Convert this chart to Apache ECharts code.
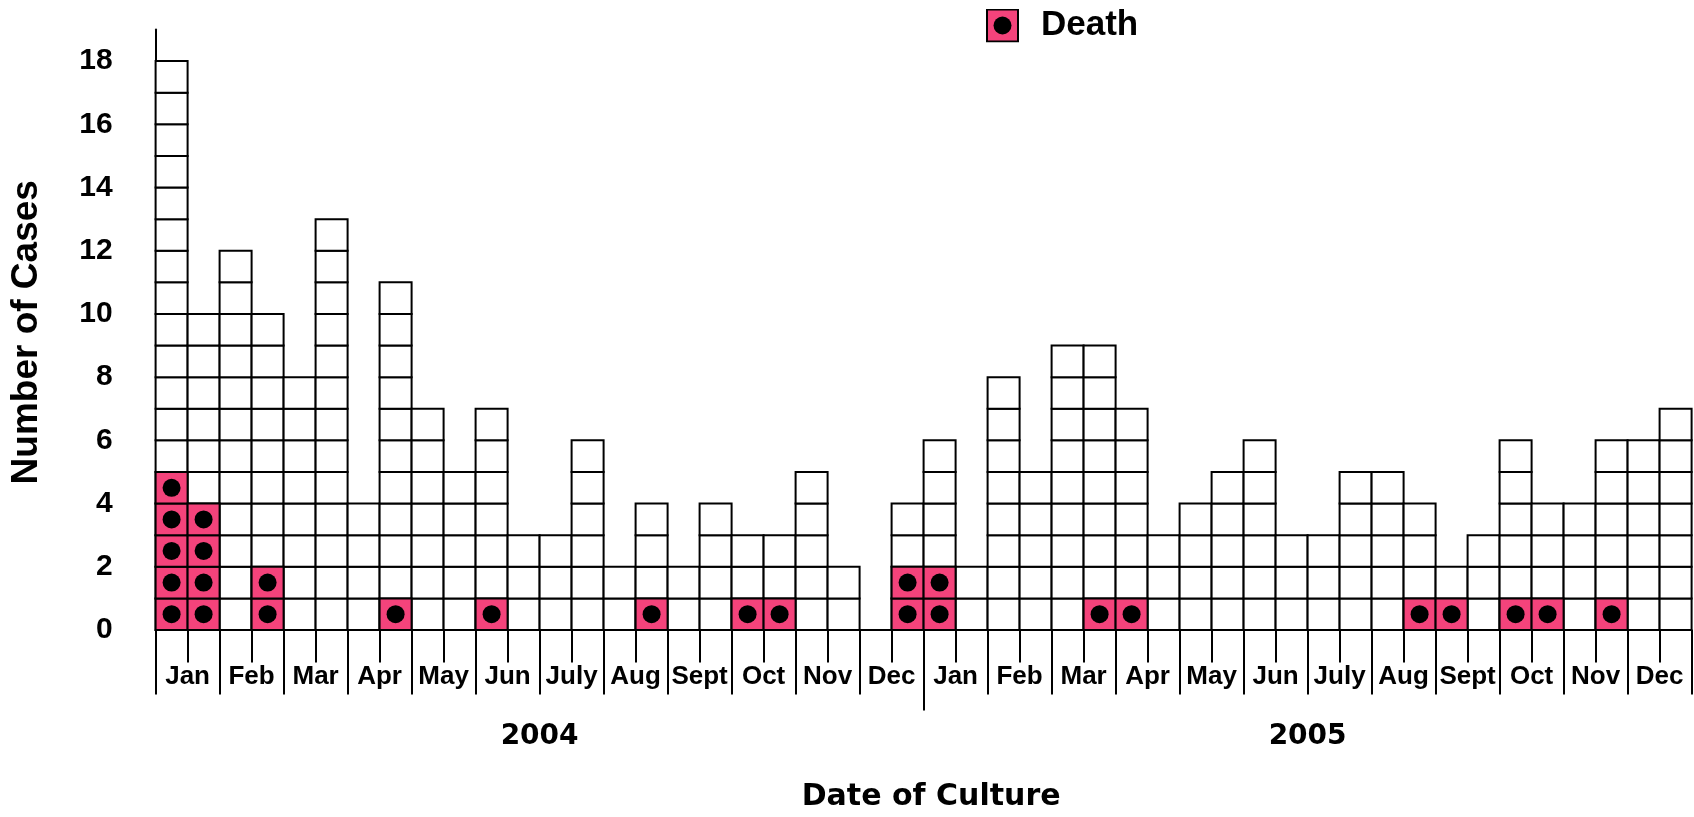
<!DOCTYPE html>
<html>
<head>
<meta charset="utf-8">
<title>Cases by date of culture</title>
<script src="https://cdn.jsdelivr.net/npm/echarts@6/dist/echarts.min.js"></script>
<style>
  html, body { margin: 0; padding: 0; background: #fff; }
  #chart { width: 1694px; height: 817px; }
</style>
</head>
<body>
<div id="chart"></div>
<script>
  // half-month columns, two per month
  var years = ['2004', '2005'];
  var months = ['Jan', 'Feb', 'Mar', 'Apr', 'May', 'Jun', 'July', 'Aug', 'Sept', 'Oct', 'Nov', 'Dec'];
  var halves = ['a', 'b'];

  var cases = [
    18, 10, 12, 10, 8, 13, 4, 11, 7, 5, 7, 3,
    3, 6, 2, 4, 2, 4, 3, 3, 5, 2, 0, 4,
    6, 2, 8, 5, 9, 9, 7, 3, 4, 5, 6, 3,
    3, 5, 5, 4, 2, 3, 6, 4, 4, 6, 6, 7
  ];
  var deaths = [
    5, 4, 0, 2, 0, 0, 0, 1, 0, 0, 1, 0,
    0, 0, 0, 1, 0, 0, 1, 1, 0, 0, 0, 2,
    2, 0, 0, 0, 0, 1, 1, 0, 0, 0, 0, 0,
    0, 0, 0, 1, 1, 0, 1, 1, 0, 1, 0, 0
  ];

  var PINK = '#F4437B';
  var FONT = "'Liberation Sans', Arial, sans-serif";
  var WIDE = "'DejaVu Sans', sans-serif";

  var monthCats = [];
  var columnCats = [];
  years.forEach(function (y) {
    months.forEach(function (m) {
      monthCats.push(m);
      halves.forEach(function (h) { columnCats.push(m + ' ' + y + ' ' + h); });
    });
  });
  var colsPerYear = columnCats.length / years.length;

  var caseData = cases.map(function (n, i) { return [i, n, deaths[i]]; });

  // one square per case, pink with a dot for deaths
  function boxes(deathOnly) {
    return function (params, api) {
      var i = api.value(0);
      var n = deathOnly ? api.value(2) : api.value(1);
      var w = api.size([1, 0])[0];
      var children = [];
      for (var k = 0; k < n; k++) {
        var p0 = api.coord([i, k]);
        var p1 = api.coord([i, k + 1]);
        children.push({
          type: 'rect',
          shape: { x: p0[0] - w / 2, y: p1[1], width: w, height: p0[1] - p1[1] },
          style: { fill: deathOnly ? PINK : '#fff', stroke: '#000', lineWidth: 2 }
        });
        if (deathOnly) {
          children.push({
            type: 'circle',
            shape: { cx: p0[0], cy: (p0[1] + p1[1]) / 2, r: 9 },
            style: { fill: '#000' }
          });
        }
      }
      return { type: 'group', children: children };
    };
  }

  var legendIcon = 'image://data:image/svg+xml;utf8,' + encodeURIComponent(
    "<svg xmlns='http://www.w3.org/2000/svg' width='33' height='34'>" +
    "<rect x='1' y='1' width='31' height='32' fill='" + PINK + "' stroke='#000' stroke-width='2'/>" +
    "<circle cx='16.5' cy='17' r='9' fill='#000'/></svg>");

  var chart = echarts.init(document.getElementById('chart'));
  chart.setOption({
    animation: false,
    backgroundColor: '#fff',
    grid: { left: 155.6, right: 2.4, top: 29.5, bottom: 179.5 },
    legend: {
      data: [{ name: 'Death', icon: legendIcon }],
      left: 986, top: 8, padding: 0,
      itemWidth: 33, itemHeight: 34,
      selectedMode: false,
      textStyle: { fontFamily: FONT, fontWeight: 'bold', fontSize: 35, color: '#000', padding: [0, 0, 0, 17] }
    },
    xAxis: [
      {
        type: 'category', data: columnCats, position: 'bottom',
        axisLine: { show: true, lineStyle: { color: '#000', width: 2 } },
        axisTick: { show: true, interval: 0, length: 32.5, lineStyle: { color: '#000', width: 2 } },
        axisLabel: { show: false }
      },
      {
        type: 'category', data: monthCats, position: 'bottom',
        axisLine: { show: false },
        axisTick: { show: true, interval: 0, length: 64.5, lineStyle: { color: '#000', width: 2 } },
        axisLabel: { interval: 0, margin: 33.5, fontFamily: FONT, fontWeight: 'bold', fontSize: 26, color: '#000' }
      },
      {
        type: 'value', position: 'bottom', min: 0, max: columnCats.length, interval: colsPerYear,
        axisLine: { show: false }, splitLine: { show: false },
        axisTick: { show: true, customValues: [colsPerYear], length: 80.5, lineStyle: { color: '#000', width: 2 } },
        axisLabel: {
          customValues: years.map(function (y, i) { return colsPerYear * i + colsPerYear / 2; }),
          formatter: function (v) { return years[Math.floor(v / colsPerYear)]; },
          margin: 93, fontFamily: WIDE, fontWeight: 'bold', fontSize: 28, color: '#000'
        },
        name: 'Date of Culture', nameLocation: 'middle', nameGap: 152,
        nameTextStyle: { fontFamily: WIDE, fontWeight: 'bold', fontSize: 30, color: '#000', padding: [0, 0, 0, 15] }
      }
    ],
    yAxis: {
      type: 'value', min: 0, max: 19, interval: 2,
      axisLine: { show: true, lineStyle: { color: '#000', width: 2 } },
      axisTick: { show: false },
      splitLine: { show: false },
      axisLabel: {
        margin: 43, fontFamily: FONT, fontWeight: 'bold', fontSize: 30, color: '#000',
        formatter: function (v) { return v % 2 === 0 ? v : ''; }
      },
      name: 'Number of Cases', nameLocation: 'middle', nameRotate: 90, nameGap: 110,
      nameTextStyle: { fontFamily: FONT, fontWeight: 'bold', fontSize: 37, color: '#000', padding: [0, 5, 0, 0] }
    },
    series: [
      { name: 'Cases', type: 'custom', renderItem: boxes(false), data: caseData },
      { name: 'Death', type: 'custom', renderItem: boxes(true), data: caseData }
    ]
  });
</script>
</body>
</html>
